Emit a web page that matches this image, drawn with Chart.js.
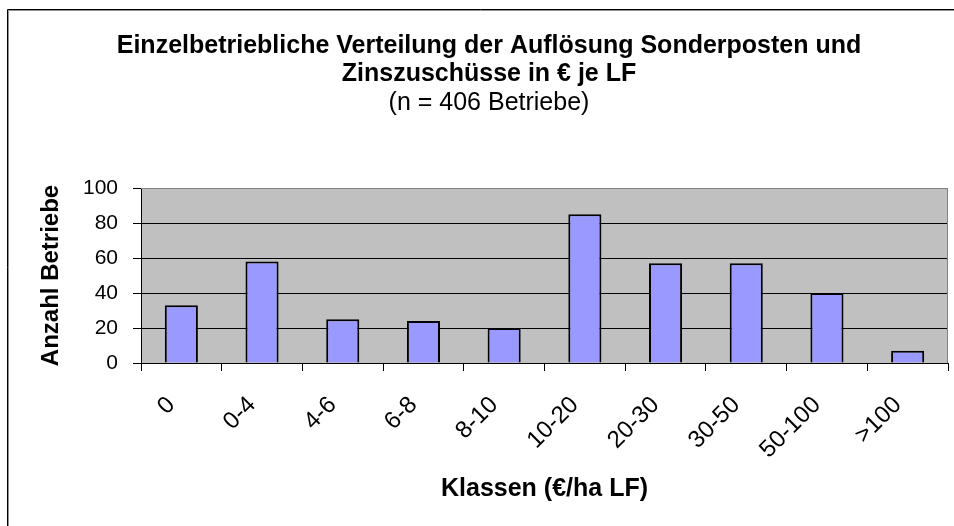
<!DOCTYPE html>
<html>
<head>
<meta charset="utf-8">
<script src="https://cdn.jsdelivr.net/npm/chart.js@4"></script>
<style>
html,body{margin:0;padding:0;background:#fff;}
#wrap{width:954px;height:526px;position:relative;}
</style>
</head>
<body>
<div id="wrap"><canvas id="c" width="954" height="526"></canvas></div>
<script>
const categories = ['0','0-4','4-6','6-8','8-10','10-20','20-30','30-50','50-100','>100'];
const betriebe = [33, 58, 25, 24, 20, 85, 57, 57, 40, 7];
const yTicks = [0, 20, 40, 60, 80, 100];
const titleLines = ['Einzelbetriebliche Verteilung der Auflösung Sonderposten und', 'Zinszuschüsse in € je LF'];
const subtitleText = '(n = 406 Betriebe)';
const yTitle = 'Anzahl Betriebe';
const xTitle = 'Klassen (€/ha LF)';

const FONT = "'Liberation Sans', Arial, sans-serif";

const decor = {
  id: 'decor',
  beforeDraw(chart) {
    const {ctx, chartArea: a} = chart;
    ctx.save();
    ctx.fillStyle = '#fff';
    ctx.fillRect(0, 0, chart.width, chart.height);
    ctx.fillStyle = '#C0C0C0';
    ctx.fillRect(a.left, a.top, a.right - a.left, a.bottom - a.top);
    ctx.restore();
  },
  afterDraw(chart) {
    const {ctx, chartArea: a} = chart;
    ctx.save();
    ctx.lineWidth = 1;
    ctx.strokeStyle = '#808080';
    ctx.beginPath();
    ctx.moveTo(a.left, a.top + 0.5);
    ctx.lineTo(a.right - 0.5, a.top + 0.5);
    ctx.lineTo(a.right - 0.5, a.bottom);
    ctx.stroke();
    // outer frame
    ctx.strokeStyle = '#000';
    ctx.beginPath();
    ctx.moveTo(7.5, chart.height);
    ctx.lineTo(7.5, 9.5);
    ctx.lineTo(chart.width, 9.5);
    ctx.stroke();
    ctx.strokeStyle = '#909090';
    ctx.beginPath();
    ctx.moveTo(8.5, chart.height);
    ctx.lineTo(8.5, 10.5);
    ctx.lineTo(chart.width, 10.5);
    ctx.stroke();
    ctx.restore();
  }
};

new Chart(document.getElementById('c'), {
  type: 'bar',
  data: {
    labels: categories,
    datasets: [{
      data: betriebe,
      backgroundColor: '#9999FF',
      borderColor: '#000',
      borderWidth: 2,
      barPercentage: 0.41,
      categoryPercentage: 1.0
    }]
  },
  options: {
    responsive: false,
    animation: false,
    devicePixelRatio: 1,
    layout: { padding: { left: 30, right: 6, top: 12, bottom: 10 } },
    plugins: {
      legend: { display: false },
      tooltip: { enabled: false },
      title: {
        display: true,
        text: titleLines,
        color: '#000',
        font: { family: FONT, size: 25, weight: 'bold', lineHeight: 1.12 },
        padding: { top: 20, bottom: 0 }
      },
      subtitle: {
        display: true,
        text: subtitleText,
        color: '#000',
        font: { family: FONT, size: 25, weight: 'normal', lineHeight: 1.0 },
        padding: { top: 3, bottom: 72 }
      }
    },
    scales: {
      x: {
        offset: true,
        grid: { display: true, drawOnChartArea: false, drawTicks: true, tickLength: 8, color: '#000', offset: true },
        border: { display: true, color: '#000', width: 1 },
        ticks: { color: '#000', font: { family: FONT, size: 24 }, minRotation: 45, maxRotation: 45, padding: 20, labelOffset: -10, autoSkip: false },
        title: { display: true, text: xTitle, color: '#000', font: { family: FONT, size: 25, weight: 'bold', lineHeight: 1.2 }, padding: { top: 0, bottom: 12 } },
        afterFit(s) { s.height = 153; }
      },
      y: {
        min: 0,
        max: 100,
        afterBuildTicks(s) { s.ticks = yTicks.map(v => ({ value: v })); },
        grid: {
          color: (c) => (c.tick && c.tick.value === 100) ? '#808080' : '#000',
          lineWidth: 1,
          drawTicks: true,
          tickLength: 8,
          tickColor: '#000'
        },
        border: { display: true, color: '#000', width: 1 },
        ticks: { color: '#000', font: { family: FONT, size: 21 }, padding: 15 },
        title: { display: true, text: yTitle, color: '#000', font: { family: FONT, size: 24, weight: 'bold', lineHeight: 1.25 }, padding: { top: 6, bottom: 0 } },
        afterFit(s) { s.width = 111; }
      }
    }
  },
  plugins: [decor]
});
</script>
</body>
</html>
